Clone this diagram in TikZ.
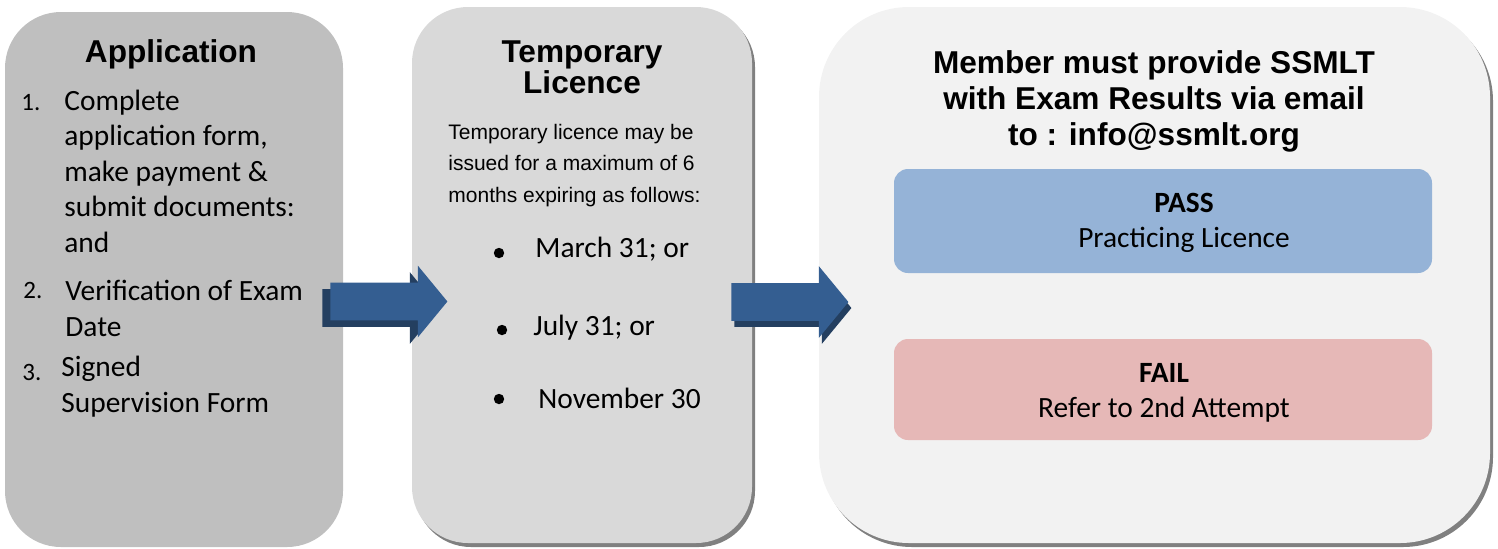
\documentclass[tikz,border=0pt]{standalone}
\usepackage{fontspec}
\setmainfont{Liberation Sans}
\newfontfamily\calibri{Carlito}
\usetikzlibrary{shapes.arrows}
\usetikzlibrary{shadows}
\definecolor{appbg}{HTML}{BFBFBF}
\definecolor{tempbg}{HTML}{D9D9D9}
\definecolor{membg}{HTML}{F2F2F2}
\definecolor{passbg}{HTML}{95B3D7}
\definecolor{failbg}{HTML}{E6B8B7}
\definecolor{arrowblue}{HTML}{345E91}
\definecolor{arrowdark}{HTML}{243F60}
\colorlet{shadowgray}{black!50}

\begin{document}
\begin{tikzpicture}[x=0.5pt,y=-0.5pt,
    panel/.style={rounded corners=28pt,inner sep=0pt},
    boxshade/.style={drop shadow={shadow xshift=1.5pt,shadow yshift=-2pt,fill=shadowgray,opacity=1}},
    result/.style={rounded corners=7pt,inner sep=0pt,minimum width=269pt},
    heading/.style={font=\fontsize{15.8pt}{15.5pt}\selectfont\bfseries,align=center,inner sep=0pt},
    body/.style={font=\calibri\fontsize{14.7pt}{17.75pt}\selectfont,align=left,inner sep=0pt},
    num/.style={font=\calibri\fontsize{12.5pt}{13pt}\selectfont,inner sep=0pt},
    small/.style={font=\fontsize{10.5pt}{15.75pt}\selectfont,align=left,inner sep=0pt},
    blockarrow/.style={single arrow,fill=arrowblue,inner xsep=0pt,inner ysep=9.25pt,
      minimum height=58.5pt,single arrow head extend=8.5pt,single arrow tip angle=101,anchor=tail},
    dot/.style={circle,fill=black,inner sep=0pt,minimum size=5.2pt}]
    \useasboundingbox (0,0) rectangle (1498,548);
    % Boxes
    \node[panel,fill=appbg,minimum width=169pt,minimum height=267.5pt] (app) at (174,279.5) {};
    \node[panel,boxshade,fill=tempbg,minimum width=170pt,minimum height=268pt] (temp) at (582,275) {};
    \node[panel,boxshade,rounded corners=45pt,fill=membg,minimum width=335.5pt,minimum height=268pt] (member) at (1154.5,275) {};
    \node[result,fill=passbg,minimum height=52pt] (pass) at (1163,221) {};
    \node[result,fill=failbg,minimum height=50.5pt] (fail) at (1163,389.5) {};
    % Arrows
    \node[blockarrow,fill=arrowdark] (toTempShade) at (322,308) {};
    \node[blockarrow] (toTemp) at (330,301.5) {};
    \node[blockarrow,fill=arrowdark] (toMemberShade) at (734,308) {};
    \node[blockarrow] (toMember) at (731,302) {};
    % Application (multi-line nodes sit on their last baseline)
    \node[heading,anchor=base] (appTitle) at (171,62) {Application};
    \node[num,anchor=base west] (numA) at (21,110) {1.};
    \node[body,anchor=base west] (itemA) at (64,252) {Complete\\application form,\\make payment \&\\submit documents:\\and};
    \node[num,anchor=base west] (numB) at (23,298) {2.};
    \node[body,anchor=base west] (itemB) at (65,336) {Verification of Exam\\Date};
    \node[num,anchor=base west] (numC) at (22,380) {3.};
    \node[body,anchor=base west] (itemC) at (61,412) {Signed\\Supervision Form};
    % Temporary licence
    \node[heading,anchor=base] (tempTitle) at (582,93) {Temporary\\Licence};
    \node[small,anchor=base west] (tempText) at (448,202) {Temporary licence may be\\issued for a maximum of 6\\months expiring as follows:};
    \node[dot] (dotA) at (499,253) {};
    \node[dot] (dotB) at (502,330) {};
    \node[dot] (dotC) at (499,399) {};
    \node[body,anchor=base west] (dateA) at (535,257) {March 31; or};
    \node[body,anchor=base west] (dateB) at (533,335) {July 31; or};
    \node[body,anchor=base west] (dateC) at (538,408) {November 30};
    % Results
    \node[heading,font=\fontsize{15.8pt}{18pt}\selectfont\bfseries,anchor=base] (memTitle) at (1154,145)
      {Member must provide SSMLT\\with Exam Results via email\\to : info@ssmlt.org};
    \node[body,align=center,font=\calibri\fontsize{14.7pt}{17.5pt}\selectfont,anchor=base] (passText) at (1184,247)
      {\textbf{PASS}\\Practicing Licence};
    \node[body,align=center,font=\calibri\fontsize{14.7pt}{17.5pt}\selectfont,anchor=base] (failText) at (1164,417)
      {\textbf{FAIL}\\Refer to 2nd Attempt};
\end{tikzpicture}
\end{document}
